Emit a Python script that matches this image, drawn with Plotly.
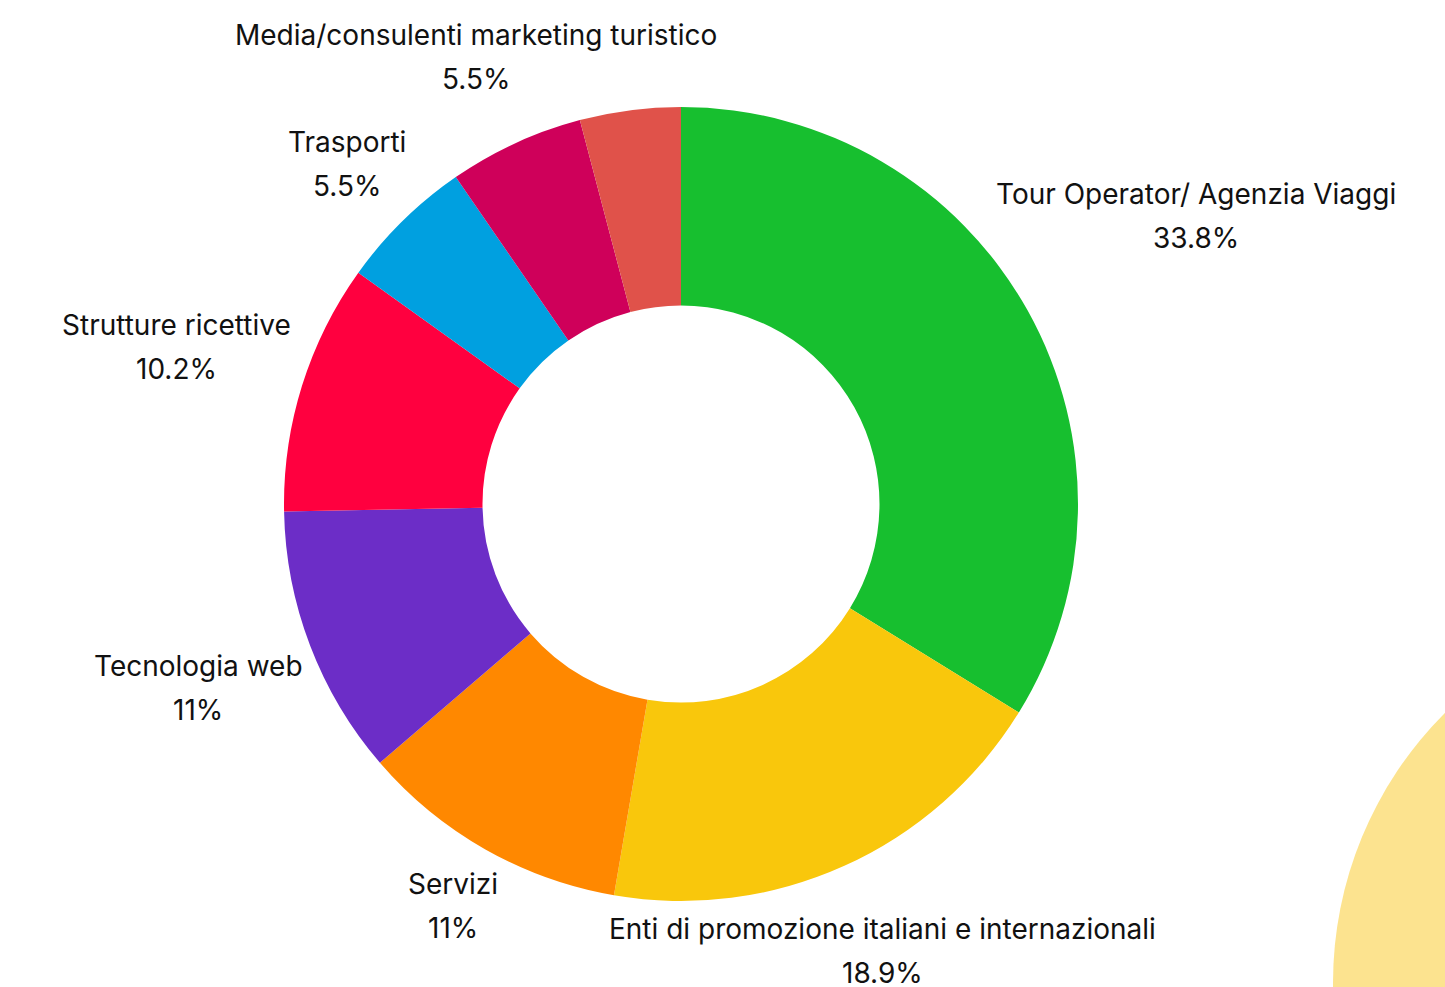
import math
import plotly.graph_objects as go

# ---------------- data ----------------
categories = [
    "Tour Operator/ Agenzia Viaggi",
    "Enti di promozione italiani e internazionali",
    "Servizi",
    "Tecnologia web",
    "Strutture ricettive",
    "Trasporti",
    "Media/consulenti marketing turistico",
    "Altro",
]
shares = [33.8, 18.9, 11.0, 11.0, 10.2, 5.5, 5.5, 4.1]
labelled = [True, True, True, True, True, True, True, False]
colors = ["#17BF2F", "#F9C70C", "#FF8800", "#6C2DC7", "#FF003F",
          "#00A0E0", "#CF005A", "#E0524A"]

# ---------------- layout geometry ----------------
W, H = 1445, 987
CX, CY, R = 681, 504, 397          # pie centre / radius in pixels
FONT = "Inter"
FS = 28
LINE_GAP = 44                       # baseline-to-baseline distance of the two label lines
HALF_H = 34                         # half height of a two-line label block
CLEAR = 413                         # labels sit just outside this radius

# rough Inter advance widths (em)
_w = {
    'a': .56, 'b': .60, 'c': .55, 'd': .60, 'e': .57, 'f': .35, 'g': .60, 'h': .58,
    'i': .24, 'j': .24, 'k': .53, 'l': .24, 'm': .87, 'n': .58, 'o': .59, 'p': .60,
    'q': .60, 'r': .37, 's': .52, 't': .36, 'u': .58, 'v': .54, 'w': .79, 'x': .53,
    'y': .54, 'z': .53, 'A': .68, 'E': .56, 'M': .85, 'O': .75, 'S': .62, 'T': .62,
    'V': .68, '.': .27, '%': .82, '/': .38, ' ': .28, '1': .42,
}


def text_width(s):
    return sum(_w.get(ch, .62) for ch in s) * FS * 0.95


def fmt_pct(v, total):
    p = round(v / total * 100, 1)
    return (f"{p:.0f}" if abs(p - round(p)) < 1e-9 else f"{p:.1f}") + "%"


def box_dist(cx, cy, hw, hh):
    dx = max(0.0, abs(cx) - hw)
    dy = max(0.0, abs(cy) - hh)
    return math.hypot(dx, dy)


fig = go.Figure()
fig.add_trace(go.Pie(
    labels=categories,
    values=shares,
    marker=dict(colors=colors, line=dict(width=0)),
    hole=0.5,
    sort=False,
    direction="clockwise",
    rotation=0,
    textinfo="none",
    showlegend=False,
    domain=dict(x=[(CX - R) / W, (CX + R) / W],
                y=[1 - (CY + R) / H, 1 - (CY - R) / H]),
))

total = sum(shares)
cum = 0.0
annotations = []
for name, v, show in zip(categories, shares, labelled):
    mid = (cum + v / 2) / total * 2 * math.pi
    cum += v
    if not show:
        continue
    ux, uy = math.sin(mid), -math.cos(mid)
    pct = fmt_pct(v, total)
    hw = max(text_width(name), text_width(pct)) / 2
    lo, hi = 0.0, 2000.0
    for _ in range(60):
        t = (lo + hi) / 2
        if box_dist(t * ux, t * uy, hw, HALF_H) < CLEAR:
            lo = t
        else:
            hi = t
    px = CX + hi * ux
    py = CY + hi * uy
    for txt, yy in ((name, py - LINE_GAP / 2), (pct, py + LINE_GAP / 2)):
        annotations.append(dict(
            x=px / W, y=1 - yy / H, xref="paper", yref="paper",
            text=txt, showarrow=False, xanchor="center", yanchor="middle",
            font=dict(family=FONT, size=FS, color="#111111"),
        ))

fig.update_layout(
    width=W, height=H,
    margin=dict(l=0, r=0, t=0, b=0),
    paper_bgcolor="white",
    plot_bgcolor="white",
    annotations=annotations,
    shapes=[dict(
        type="circle", xref="paper", yref="paper", layer="below",
        x0=(1715 - 382) / W, x1=(1715 + 382) / W,
        y0=1 - (983 + 382) / H, y1=1 - (983 - 382) / H,
        fillcolor="#FCE38F", line=dict(width=0),
    )],
)

fig.write_html("out.html", config={"displayModeBar": False},
               post_script="document.body.style.margin='0px';")
